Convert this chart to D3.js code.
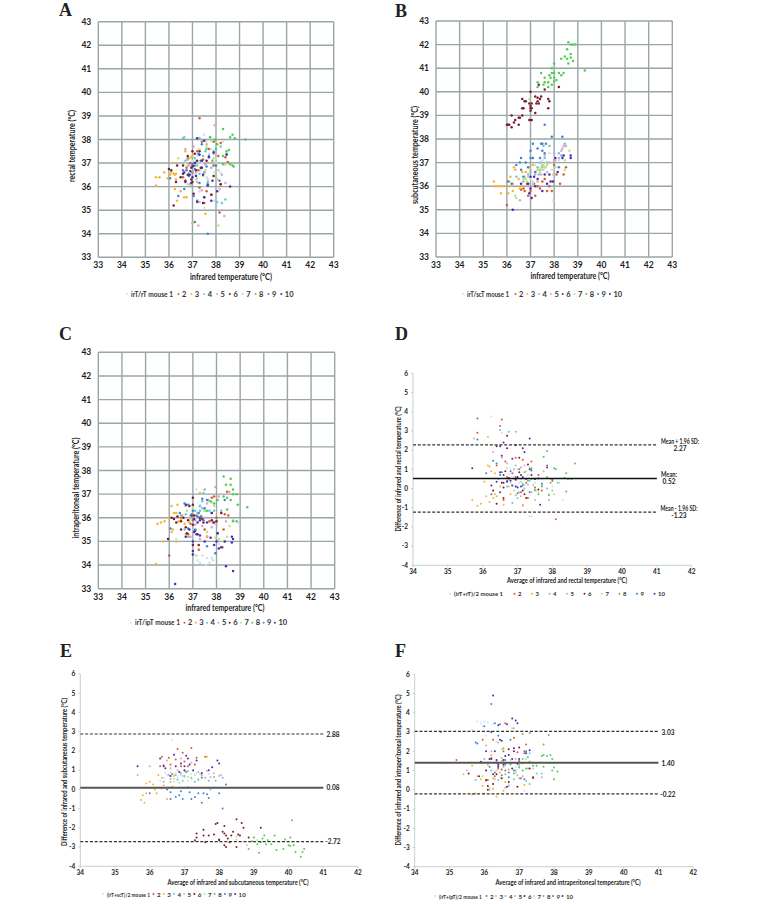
<!DOCTYPE html>
<html>
<head>
<meta charset="utf-8">
<script src="https://cdn.jsdelivr.net/npm/d3@7"></script>
<style>
  body { margin: 0; background: #fff; }
  text { font-family: Lato, "Open Sans", sans-serif; fill: #1c1c1c; }
</style>
</head>
<body>
<div id="chart"></div>
<script>
// one colour per mouse, mouse 1 to 10
const mouseColors = ["#cfe0ee", "#dc5a2e", "#f6b437", "#6cc6de", "#d9a6c8", "#7c1c30", "#b9e38d", "#52cc55", "#3f84d8", "#4a2cb2"]
const mouseLabels = ["2", "3", "4", "5", "6", "7", "8", "9", "10"]
const scatterTicks = [33, 34, 35, 36, 37, 38, 39, 40, 41, 42, 43]
const baXTicks = [34, 35, 36, 37, 38, 39, 40, 41, 42]
const baYTicks = [-4, -3, -2, -1, 0, 1, 2, 3, 4, 5, 6]

// A: infrared vs rectal
const rectalData = [
  [[37.5,38.2],[37.6,37.9],[37.2,37.3],[37.8,37.6],[37.4,37.0],[37.9,36.9],[37.1,36.5],[37.6,36.4],[38.0,37.2],[37.5,36.0],[37.5,35.1],[37.3,35.8],[37.9,35.4],[38.2,36.6],[36.9,36.9],[38.3,37.9],[37.7,37.4],[37.2,36.2],[36.6,36.6],[37.0,37.1],[37.35,36.7]],
  [[37.3,38.9],[37.9,37.9],[38.2,37.85],[38.1,37.3],[38.4,37.25],[38.5,37.05],[37.4,37.9],[37.7,37.6],[36.8,37.2],[37.1,36.9],[37.5,36.6],[37.9,36.9],[38.2,36.1],[37.5,35.3],[37.3,35.95],[38.15,34.9],[37.6,35.8],[37.0,36.6],[37.8,35.65],[37.2,37.5],[36.6,36.4],[36.9,37.0],[37.25,36.7],[36.75,36.8],[37.45,37.15]],
  [[35.45,36.05],[35.45,36.4],[35.6,36.4],[35.8,36.6],[35.95,36.35],[36.05,36.5],[36.1,36.6],[36.2,36.55],[36.3,36.55],[36.15,37.0],[36.25,35.9],[36.3,36.3],[36.35,35.4],[36.5,35.8],[36.65,35.55],[36.75,35.55],[36.8,36.9],[37.0,37.3],[37.55,34.85],[37.0,34.45],[36.7,37.5],[36.9,36.1],[36.25,36.5],[36.95,37.25],[36.85,37.2]],
  [[36.65,38.1],[37.3,38.05],[37.55,37.5],[37.75,38.1],[38.2,37.7],[37.1,37.2],[36.7,37.1],[37.2,36.9],[37.5,36.6],[38.25,35.3],[38.4,35.45],[36.95,36.0],[37.8,36.8],[37.45,37.3],[37.9,37.5],[37.0,36.65],[37.65,36.2],[38.05,35.35],[36.8,37.15],[37.3,36.55],[37.15,37.05],[36.6,38.05],[36.85,36.5]],
  [[37.95,38.6],[36.7,37.6],[37.05,37.7],[37.25,34.35],[38.35,34.75],[38.4,36.15],[38.15,35.9],[37.3,35.35],[37.4,36.8],[37.8,37.0],[37.2,36.2],[38.05,36.3],[37.6,37.8],[37.4,35.85],[36.9,36.5],[37.9,37.4],[38.25,36.5],[36.6,37.0],[37.15,36.6],[36.85,36.9],[37.55,36.95]],
  [[36.2,35.2],[36.0,36.75],[36.1,36.7],[36.3,36.2],[36.35,36.9],[36.5,36.4],[36.6,36.55],[36.7,36.25],[36.8,36.5],[36.95,36.3],[37.0,37.5],[37.05,35.7],[37.05,36.9],[37.2,37.1],[37.45,35.3],[37.3,37.5],[37.8,35.65],[37.9,36.45],[36.6,36.9],[37.0,36.2],[38.2,36.1],[37.4,36.8],[37.6,37.1],[36.8,37.3],[37.1,37.4],[36.9,36.65],[37.0,36.85],[37.15,36.7]],
  [[38.1,34.35],[37.2,36.35],[36.8,36.1],[37.65,36.3],[37.95,36.6],[38.1,36.7],[37.1,36.95],[36.4,37.2],[36.7,37.0],[37.6,37.7],[37.3,37.6],[37.9,37.2],[38.4,36.95],[38.0,37.0],[37.55,36.7],[38.05,36.3],[37.8,37.95],[36.85,36.6],[37.15,36.3],[37.45,36.45],[37.25,37.0]],
  [[38.3,38.45],[38.7,38.2],[38.6,38.1],[38.8,38.05],[39.25,38.0],[37.75,38.1],[37.95,38.0],[38.05,37.8],[38.0,37.6],[38.55,37.55],[38.45,37.4],[38.3,37.3],[38.6,36.95],[38.75,36.85],[38.3,36.95],[38.45,37.5],[37.6,37.6],[37.85,37.1],[38.7,36.9]],
  [[37.65,34.0],[37.1,34.5],[36.4,35.6],[36.65,35.9],[36.05,36.35],[36.75,36.7],[37.05,35.6],[37.2,35.4],[37.3,36.15],[37.65,36.1],[38.15,36.25],[37.4,37.8],[37.25,37.4],[37.6,36.85],[36.9,36.5],[37.7,37.3],[38.0,36.9],[37.5,35.55],[37.0,36.95],[36.6,36.7],[36.85,36.45],[37.1,36.75],[37.35,37.1]],
  [[38.6,36.0],[37.2,38.05],[37.8,35.4],[37.5,35.55],[37.85,36.25],[37.65,36.05],[37.35,36.8],[37.0,36.4],[36.85,36.5],[36.7,36.2],[37.4,37.1],[37.1,37.0],[37.45,36.5],[37.2,35.35],[38.05,35.8],[38.45,37.35],[37.7,37.25],[37.3,37.35],[37.9,37.45],[37.5,37.95],[36.95,36.8],[36.65,36.6],[37.15,36.45],[36.95,36.15]]
]

// B: infrared vs subcutaneous
const subcutData = [
  [[37.95,35.4],[38.0,37.2],[37.8,37.4],[37.4,36.6],[37.6,36.8],[37.2,36.9],[37.0,36.3],[37.5,37.1],[37.3,36.0],[37.9,36.7],[38.2,37.1],[36.8,36.6],[37.1,36.2],[37.7,37.0]],
  [[36.0,35.2],[38.25,36.1],[36.75,35.8],[36.6,35.85],[36.9,35.6],[37.0,35.8],[37.2,35.6],[37.3,36.0],[37.5,36.2],[37.7,35.8],[37.9,35.8],[37.8,36.0],[38.0,36.9],[38.1,36.5],[38.5,36.8],[37.4,35.9],[36.85,36.1],[37.6,36.3],[38.4,36.5],[37.15,36.1],[36.7,35.9]],
  [[35.45,36.2],[35.5,36.0],[35.6,36.0],[35.75,36.0],[35.9,36.0],[35.75,35.7],[36.05,35.7],[36.1,36.0],[36.1,36.2],[36.15,36.4],[36.25,36.1],[36.25,35.8],[36.3,36.8],[36.35,36.7],[36.5,36.3],[36.6,36.0],[36.8,36.6],[36.9,36.8],[37.1,36.9],[36.55,35.9],[37.3,36.7],[36.65,36.6],[37.0,36.7]],
  [[36.4,36.4],[36.7,36.2],[37.0,36.6],[37.3,36.8],[37.6,37.2],[37.8,37.7],[38.45,37.8],[38.2,37.4],[38.3,37.3],[37.4,37.0],[37.1,37.2],[36.9,36.5],[37.5,36.8],[37.7,37.0],[38.0,37.1],[37.55,37.7],[37.2,36.6],[37.35,36.5]],
  [[36.55,35.4],[38.35,37.6],[38.5,37.7],[38.3,37.5],[38.0,37.4],[38.05,37.1],[37.6,37.3],[37.5,36.9],[37.2,36.5],[38.4,37.7],[37.4,36.7],[36.9,36.0],[37.8,37.0],[38.2,37.2],[37.3,36.2],[37.45,36.5],[37.7,36.6]],
  [[36.0,38.6],[36.05,38.6],[36.1,38.6],[36.2,38.5],[36.3,38.7],[36.35,38.8],[36.2,39.0],[36.5,38.6],[36.55,38.9],[36.5,38.9],[36.65,39.0],[36.7,39.3],[36.65,39.3],[36.65,39.7],[36.75,39.6],[36.8,39.6],[37.0,40.0],[36.95,39.5],[37.0,39.4],[37.05,39.3],[37.0,39.2],[37.05,39.5],[37.2,39.1],[37.25,39.5],[37.3,39.6],[37.35,39.5],[37.4,39.7],[37.45,39.8],[37.2,39.8],[37.3,39.75],[37.35,40.3],[37.6,40.1],[37.75,39.7],[37.8,39.6],[37.75,39.3],[38.2,40.2],[37.0,38.8],[36.95,38.8],[37.05,38.8],[37.0,39.3]],
  [[36.4,35.5],[36.35,35.6],[36.8,36.3],[36.75,36.4],[36.85,36.2],[37.1,36.1],[37.4,36.6],[37.5,36.7],[37.55,36.9],[37.6,36.8],[37.65,37.0],[37.7,36.9],[38.45,36.7],[38.45,37.1],[37.45,36.8],[36.9,36.4],[37.95,36.5],[38.05,36.8],[38.65,37.5],[36.95,39.7],[37.55,36.7],[37.65,36.8],[37.35,36.7],[36.7,36.3]],
  [[38.6,42.1],[38.7,42.0],[38.8,42.0],[38.9,42.0],[38.55,41.8],[38.45,41.5],[38.7,41.6],[38.7,41.45],[38.55,41.4],[38.3,41.4],[38.6,41.2],[38.8,41.3],[38.0,41.2],[37.9,41.0],[39.3,40.9],[37.45,40.8],[37.8,40.7],[37.9,40.8],[38.0,40.8],[38.2,40.8],[38.4,40.8],[38.3,40.7],[37.85,40.6],[38.0,40.6],[38.1,40.5],[37.3,40.4],[37.6,40.6],[37.6,40.4],[37.55,40.3],[37.75,40.4],[37.75,40.2],[37.3,40.2],[37.9,40.3],[38.0,40.45]],
  [[37.6,38.6],[37.9,38.1],[38.35,38.1],[37.1,37.8],[37.45,37.8],[37.5,37.8],[37.65,37.8],[37.3,37.6],[37.5,37.5],[37.0,37.5],[36.6,37.2],[37.0,37.2],[37.1,37.2],[37.4,37.2],[36.4,36.9],[36.55,37.0],[36.8,37.0],[37.2,36.6],[36.6,36.7],[36.05,36.2],[36.2,36.1],[36.9,36.8],[37.6,37.4],[36.7,36.4],[38.2,36.8]],
  [[36.25,35.0],[37.05,35.5],[36.95,35.7],[37.0,35.9],[37.5,35.8],[37.7,36.1],[37.85,36.2],[37.95,36.2],[37.0,36.4],[37.15,36.4],[37.3,36.3],[37.6,36.5],[37.8,36.5],[38.35,37.2],[38.4,37.3],[38.7,37.2],[38.7,37.3],[38.05,37.2],[36.6,36.1],[36.9,36.1],[37.2,36.0],[38.15,36.6]]
]

// C: infrared vs intraperitoneal
const intraperData = [
  [[37.15,37.2],[37.2,34.2],[37.3,34.1],[37.4,34.4],[37.55,34.0],[37.6,34.3],[37.7,34.1],[37.8,34.3],[37.85,34.2],[37.0,36.3],[37.5,35.5],[38.1,34.9],[37.7,36.7],[38.9,35.8],[36.3,35.1],[37.1,36.0],[36.9,36.5]],
  [[36.0,34.4],[38.25,34.75],[38.3,35.5],[37.6,35.2],[37.85,35.8],[37.9,36.9],[38.0,36.0],[36.8,35.3],[37.25,34.65],[37.5,35.5],[37.3,36.5],[38.35,36.15],[38.5,36.1],[37.8,36.85],[37.0,35.9],[38.45,37.1],[36.5,36.0],[36.9,35.75],[37.15,36.1],[37.7,35.85]],
  [[35.45,34.05],[35.5,35.75],[35.65,35.8],[35.75,35.0],[35.8,35.85],[35.95,36.0],[36.1,36.5],[36.15,35.5],[36.2,36.2],[36.3,36.2],[36.35,36.55],[36.3,35.0],[36.1,35.4],[36.5,35.95],[36.7,35.3],[37.3,37.05],[36.85,35.2],[37.6,35.2],[36.55,36.1],[36.85,35.8],[36.4,35.85],[36.65,35.75]],
  [[36.5,36.1],[36.7,36.15],[36.9,36.1],[37.1,36.3],[37.3,36.3],[37.5,36.3],[37.7,36.3],[37.5,37.2],[37.45,37.05],[37.4,36.7],[37.3,36.5],[37.9,36.3],[38.2,36.3],[36.8,35.2],[37.65,36.75],[37.1,35.9],[37.2,36.2],[37.4,36.4],[36.65,35.5]],
  [[37.95,37.3],[38.2,36.2],[38.4,35.85],[37.2,36.0],[38.55,37.1],[36.9,35.2],[37.3,35.1],[37.6,36.6],[38.1,36.9],[36.7,36.5],[37.8,35.6],[38.0,35.7],[37.5,36.0],[37.1,35.7],[36.85,36.0],[37.4,35.65]],
  [[35.95,35.1],[36.1,36.0],[36.2,35.95],[36.3,35.8],[36.35,36.05],[36.5,35.5],[36.5,35.85],[36.7,35.6],[36.7,36.55],[36.85,36.5],[37.0,36.55],[37.0,36.85],[37.0,35.7],[37.0,34.85],[37.25,34.85],[37.05,36.1],[37.3,36.0],[37.45,35.8],[37.8,35.9],[38.2,36.2],[38.0,35.85],[37.4,35.95],[36.8,35.9],[37.2,35.3],[36.6,36.0],[36.95,36.1],[37.1,35.45],[36.75,35.35]],
  [[37.15,34.4],[37.95,35.15],[38.1,35.1],[38.45,35.2],[38.3,35.0],[37.6,35.4],[37.8,36.65],[37.5,36.3],[37.2,36.2],[36.75,36.3],[37.9,36.5],[38.7,35.9],[38.55,35.65],[37.0,36.4],[37.35,36.1],[36.9,35.95]],
  [[38.3,37.75],[38.6,37.65],[38.4,37.4],[38.6,37.4],[38.7,37.2],[38.85,37.0],[38.7,37.0],[38.6,36.75],[38.45,36.85],[39.3,36.45],[38.9,36.55],[38.3,36.9],[37.75,36.7],[37.9,36.6],[38.05,36.75],[38.7,35.85],[38.85,35.85],[37.6,36.3],[38.45,36.35]],
  [[36.05,35.55],[36.45,36.2],[36.65,36.6],[36.8,36.55],[37.0,36.3],[37.25,36.2],[37.4,36.8],[37.6,36.75],[37.95,34.5],[38.05,35.35],[37.6,34.8],[37.8,36.2],[37.35,36.05],[38.35,36.75],[37.1,35.5],[36.8,35.55],[37.5,36.4],[37.2,36.05],[36.95,36.15],[37.45,35.9]],
  [[36.25,33.2],[38.4,33.95],[38.7,33.75],[37.0,34.45],[37.0,34.6],[38.65,34.95],[38.7,35.1],[38.65,35.2],[38.1,34.7],[38.2,34.75],[38.0,35.0],[37.9,34.85],[37.5,35.0],[37.75,35.15],[37.3,35.25],[37.15,35.3],[37.05,35.4],[36.7,35.2],[37.0,35.0],[38.35,35.0],[38.05,35.35],[37.6,35.8],[37.9,35.8],[37.3,35.9],[37.05,35.95],[37.8,36.2],[36.85,35.5],[37.2,35.8]]
]

// D: difference infrared - rectal
const baRectalData = [
  [[36.25,3.75],[36.55,2.9],[36.8,1.0],[37.1,0.5],[37.35,-1.45],[37.4,-1.45],[37.2,0.2],[37.5,0.3],[36.9,0.6],[37.6,-0.2],[37.7,0.5],[37.0,0.1],[38.0,0.1],[37.3,0.7],[38.3,-0.6],[36.75,0.75],[37.05,0.3],[37.45,0.15]],
  [[38.1,-1.6],[36.55,3.6],[36.5,3.25],[35.85,2.9],[37.15,1.5],[36.4,1.2],[36.7,0.6],[37.5,0.05],[37.6,0.7],[38.0,0.4],[37.25,0.3],[37.7,-0.1],[36.95,1.6],[36.6,-0.6],[37.1,-0.2],[37.3,-0.5],[37.85,1.2],[36.85,0.8],[37.05,1.0],[36.65,1.4],[37.4,1.4]],
  [[35.7,-0.6],[35.85,-0.9],[35.95,-0.8],[36.05,0.35],[36.1,-0.4],[36.2,1.15],[36.15,1.2],[36.25,0.9],[36.3,-0.5],[36.35,-0.3],[36.4,-0.4],[36.6,-0.85],[36.8,-0.3],[36.2,-0.7],[36.75,0.1],[36.15,2.7],[35.75,2.6],[37.1,-0.4],[37.15,-0.85],[36.5,0.1],[36.35,0.8],[36.95,-0.35]],
  [[36.5,3.05],[36.75,2.95],[36.95,2.95],[36.9,1.0],[37.1,1.1],[37.0,-0.5],[37.2,0.0],[37.35,0.4],[37.7,0.15],[37.85,0.0],[37.9,-0.6],[38.15,0.3],[36.45,0.5],[37.6,0.55],[36.7,0.1],[37.05,-0.2],[36.85,-0.75],[37.15,0.25],[37.5,-0.05]],
  [[36.55,1.6],[36.3,1.9],[36.9,0.5],[37.4,-0.2],[37.75,0.9],[36.7,1.3],[37.5,-0.6],[37.2,1.2],[37.95,0.5],[38.0,-0.1],[37.15,-0.9],[37.3,0.2],[36.75,0.45],[36.95,1.2]],
  [[35.7,1.05],[36.25,0.15],[36.3,-0.1],[36.4,-0.8],[36.55,0.3],[36.6,-0.5],[36.65,0.9],[36.7,2.1],[36.7,2.75],[37.0,0.6],[37.05,1.6],[37.2,-0.3],[37.25,-0.5],[37.15,2.1],[37.4,0.7],[37.6,-0.05],[36.85,0.15],[37.1,0.7],[36.4,2.2],[37.3,1.25],[36.5,0.85],[36.75,0.55],[36.95,0.45],[37.15,-0.1],[36.6,0.05]],
  [[36.7,1.05],[37.0,1.0],[37.4,0.9],[37.6,0.5],[36.8,0.3],[37.9,-0.3],[38.2,0.3],[38.05,-0.3],[37.35,1.1],[36.9,-0.1],[37.55,-0.1],[37.25,0.9],[37.1,0.35],[37.45,0.2]],
  [[38.65,1.3],[37.85,1.95],[37.75,1.65],[38.05,1.05],[38.1,1.0],[38.4,0.8],[38.35,0.55],[38.45,0.5],[38.55,0.5],[37.7,0.1],[37.95,0.3],[38.4,-0.15],[37.4,1.05],[37.2,0.85],[37.9,-0.35],[37.85,0.6],[37.4,0.5],[37.6,-0.3],[37.5,-0.1],[37.3,0.4]],
  [[35.85,3.65],[35.85,2.55],[36.4,1.3],[36.5,0.7],[36.3,1.45],[36.25,-0.3],[36.8,0.9],[36.95,0.6],[37.4,0.95],[37.5,0.5],[37.0,-0.25],[37.35,-0.2],[38.0,0.5],[37.7,0.25],[36.1,0.8],[36.7,0.4],[36.85,0.15],[37.15,0.15],[36.55,0.85]],
  [[36.6,2.4],[36.55,1.7],[37.35,2.6],[36.95,2.25],[37.2,1.9],[36.85,1.55],[36.4,0.35],[36.6,0.3],[37.1,0.1],[36.95,0.1],[37.15,0.6],[36.5,2.2],[37.65,-0.85],[36.8,0.4],[37.5,0.5],[37.85,1.1],[37.35,1.0],[37.0,0.05],[36.7,0.35],[36.5,-0.2],[37.25,0.5],[37.05,0.85],[36.6,0.7]]
]

// E: difference infrared - subcutaneous
const baSubcutData = [
  [[36.65,2.55],[36.4,0.6],[36.6,0.9],[36.8,0.6],[36.9,0.75],[37.0,0.6],[37.2,0.8],[37.4,0.55],[37.5,0.7],[36.5,0.75],[37.1,0.45],[36.7,0.4],[37.7,0.8],[36.3,0.45],[36.45,0.85],[37.25,0.95],[37.35,0.85],[36.75,0.85]],
  [[36.35,1.7],[36.55,1.65],[36.8,2.1],[36.95,1.9],[37.2,2.15],[37.35,1.65],[36.4,1.25],[36.6,1.3],[37.0,1.45],[37.3,1.3],[37.5,0.6],[36.65,0.8],[37.05,0.9],[36.3,1.2],[37.6,1.7],[36.9,1.2],[36.75,1.55],[37.1,1.2]],
  [[35.75,-0.55],[35.85,-0.7],[35.8,-0.3],[35.9,-0.2],[35.9,0.3],[36.0,0.4],[36.1,0.25],[36.15,0.0],[36.2,-0.2],[36.35,0.05],[36.35,0.6],[36.5,-0.5],[36.6,0.4],[36.7,0.7],[36.25,0.75],[36.4,0.2],[37.65,1.7],[36.55,0.1],[36.65,0.15]],
  [[36.4,0.4],[36.6,0.55],[36.8,0.5],[37.0,0.7],[37.2,0.6],[37.4,0.5],[37.5,0.75],[37.7,0.45],[37.85,0.65],[37.9,0.45],[36.9,0.85],[37.1,0.95],[38.1,0.6],[37.75,0.0],[36.55,0.75],[36.75,0.75],[37.3,0.4],[37.6,0.6],[36.95,0.45]],
  [[35.65,0.75],[36.0,1.2],[37.75,0.65],[37.85,0.65],[38.0,0.7],[38.05,0.75],[36.5,1.5],[37.2,1.4],[37.4,0.9],[36.8,1.0],[37.65,0.95],[36.9,1.6],[37.85,0.85],[37.0,0.95],[36.6,1.1]],
  [[37.3,-2.65],[37.35,-2.5],[37.35,-2.3],[37.55,-2.1],[37.55,-2.4],[37.6,-2.75],[37.7,-2.4],[37.85,-2.35],[37.9,-1.8],[37.95,-1.75],[38.0,-2.6],[38.0,-2.65],[38.1,-2.2],[38.15,-1.9],[38.15,-2.3],[38.2,-2.4],[38.2,-3.0],[38.15,-2.9],[38.25,-2.55],[38.35,-2.4],[38.4,-2.2],[38.3,-2.75],[38.5,-1.55],[38.5,-3.0],[38.65,-1.75],[38.7,-2.0],[38.6,-2.4],[38.85,-2.5],[39.2,-2.0],[38.55,-2.35]],
  [[38.5,-2.6],[38.8,-2.9],[39.1,-2.65],[38.5,-2.45],[39.0,-2.5],[36.6,0.7],[37.1,0.65],[37.3,0.75],[36.85,0.35],[36.7,0.55],[37.2,0.55],[37.45,0.8],[36.95,0.7]],
  [[38.85,-3.1],[38.95,-2.7],[39.0,-2.5],[39.1,-2.85],[39.15,-3.3],[39.2,-2.75],[39.25,-2.55],[39.3,-2.4],[39.35,-2.85],[39.4,-2.65],[39.5,-2.85],[39.6,-2.4],[39.65,-3.15],[39.85,-3.1],[39.9,-2.6],[40.0,-2.9],[40.05,-2.5],[40.1,-1.6],[40.15,-2.9],[40.2,-3.25],[40.35,-3.5],[40.4,-3.25],[40.45,-3.1],[40.05,-2.95]],
  [[36.0,-0.2],[36.6,-0.5],[36.75,-0.4],[36.95,-0.5],[37.2,-0.5],[37.3,-0.4],[37.4,-0.2],[37.5,-0.7],[37.7,-0.45],[37.65,-0.25],[38.1,-1.0],[38.0,-0.2],[38.2,0.25],[36.5,0.0],[36.9,-0.1],[37.1,0.1],[37.55,-0.2],[36.6,-0.15],[36.85,-0.3],[37.15,-0.15]],
  [[35.65,1.2],[36.3,1.6],[36.4,1.2],[36.45,1.1],[36.7,1.8],[36.75,1.2],[37.0,1.2],[37.05,1.75],[37.1,1.6],[37.35,1.5],[37.0,1.0],[37.7,1.0],[37.8,1.15],[37.95,1.5],[38.0,1.35],[37.5,0.85],[36.6,0.7],[37.25,1.0],[36.85,0.9],[36.9,1.35],[37.15,1.3]]
]

// F: difference infrared - intraperitoneal
const baIntraperData = [
  [[35.8,3.55],[35.9,3.45],[36.0,3.55],[36.1,3.5],[35.95,3.3],[35.65,3.1],[36.25,3.4],[37.15,-0.05],[36.05,2.8],[36.35,2.5],[36.9,1.2],[36.7,0.3],[36.6,1.25],[36.45,0.65]],
  [[35.2,1.55],[36.25,2.6],[36.6,3.45],[36.85,2.7],[36.95,1.95],[37.2,2.35],[37.4,0.6],[37.05,0.6],[36.1,0.5],[36.3,0.7],[36.6,1.0],[37.0,1.5],[37.15,2.0],[36.55,2.0],[36.75,1.35],[35.95,2.6],[36.4,1.1],[36.2,1.65],[36.5,0.75]],
  [[34.75,1.4],[35.4,0.8],[35.65,-0.25],[35.75,-0.2],[35.8,0.7],[35.9,0.55],[35.95,0.2],[36.05,0.45],[36.15,0.0],[36.25,0.05],[36.35,-0.35],[36.4,2.45],[36.55,-0.05],[36.6,0.4],[36.2,1.8],[36.0,-0.2],[36.45,0.9],[37.15,0.25],[35.65,1.25],[36.3,0.55],[36.1,1.3],[36.5,1.5]],
  [[36.25,0.6],[36.4,0.5],[36.7,0.2],[36.85,0.55],[37.0,0.6],[37.2,0.45],[37.3,0.3],[37.3,1.9],[37.1,1.6],[36.75,1.3],[36.4,1.3],[36.0,1.6],[36.9,1.0],[37.5,0.85],[37.65,0.85],[35.75,0.5],[36.6,0.8],[37.0,1.25],[36.55,1.2],[36.2,1.0]],
  [[35.5,1.0],[36.9,1.6],[37.65,0.65],[37.1,0.7],[36.2,2.0],[36.6,0.1],[37.4,1.4],[36.5,1.65],[37.25,1.1],[36.85,3.2],[36.05,2.3],[36.7,1.05],[36.35,1.5],[36.95,0.75]],
  [[35.55,0.85],[35.85,0.7],[36.05,0.5],[36.1,0.2],[36.1,0.0],[36.25,0.3],[36.25,0.8],[36.4,1.2],[36.5,0.6],[36.55,1.55],[36.65,0.15],[36.7,2.1],[36.7,0.4],[36.85,2.0],[36.95,0.15],[37.0,2.2],[36.8,1.1],[37.4,0.65],[37.3,1.1],[37.2,1.9],[35.9,1.45],[36.15,1.6],[36.35,0.8],[36.6,1.35],[36.05,1.0]],
  [[36.15,0.1],[36.5,2.1],[36.8,3.2],[36.9,0.9],[37.4,1.1],[37.0,1.3],[37.55,1.4],[36.6,1.4],[35.95,0.7],[36.35,1.0],[37.2,1.6],[36.75,1.55],[37.1,1.35]],
  [[38.0,0.55],[38.1,0.95],[38.0,1.15],[37.95,1.0],[37.85,2.85],[37.7,2.35],[37.9,1.8],[37.8,1.75],[37.7,1.8],[37.65,1.75],[37.95,1.6],[37.7,1.2],[37.5,1.25],[37.3,2.95],[37.1,2.9],[37.3,1.45],[37.2,1.1],[36.85,0.85],[37.0,1.15],[37.1,1.0],[37.25,1.7],[36.55,2.15],[37.4,1.25]],
  [[34.75,3.0],[36.2,4.45],[36.0,3.3],[36.3,3.45],[35.75,2.45],[35.8,2.4],[36.35,1.4],[36.55,1.4],[36.7,0.9],[37.2,2.0],[36.4,2.8],[36.75,2.6],[36.45,3.4],[36.85,1.0],[37.15,1.9],[37.15,0.55],[36.6,1.55],[36.3,0.9],[36.15,1.2],[36.5,1.05],[36.7,0.65]],
  [[36.25,4.9],[36.8,3.7],[36.9,3.6],[36.95,3.45],[36.65,3.4],[36.4,3.35],[36.2,3.0],[36.45,2.6],[36.5,2.55],[36.3,2.0],[36.55,1.3],[36.85,2.15],[36.05,2.0],[36.7,1.8],[36.4,1.3],[37.0,1.6],[37.3,2.05],[36.2,1.6],[36.8,1.6],[36.35,1.55],[36.6,1.75],[36.95,1.35]]
]

// mean and limits of agreement, low/mean/high
const baRectalLines = [-1.23, 0.52, 2.27]
const baSubcutLines = [-2.72, 0.08, 2.88]
const baIntraperLines = [-0.22, 1.40, 3.03]

const svg = d3.select("#chart").append("svg")
    .attr("width", 759)
    .attr("height", 904)
    .style("display", "block")

function panelLetter(letter, x, y) {
    svg.append("text")
        .attr("x", x).attr("y", y)
        .style("font-family", "'Liberation Serif', serif")
        .style("font-weight", "700")
        .style("font-size", "18px")
        .style("fill", "#222")
        .text(letter)
}

function drawPoints(g, data, x, y, r) {
    data.forEach((pts, i) => {
        g.append("g").selectAll("circle")
            .data(pts)
            .enter().append("circle")
            .attr("cx", d => x(d[0]))
            .attr("cy", d => y(d[1]))
            .attr("r", r)
            .attr("fill", mouseColors[i])
    })
}

function drawLegend(cfg) {
    const g = svg.append("g").style("font-size", cfg.size + "px").style("font-weight", "700")
    g.append("circle").attr("cx", cfg.x0).attr("cy", cfg.y).attr("r", 1).attr("fill", mouseColors[0])
    g.append("text").attr("x", cfg.x0 + 4).attr("y", cfg.y + 2.5)
        .attr("textLength", cfg.width).attr("lengthAdjust", "spacingAndGlyphs")
        .style("font-size", cfg.firstSize + "px")
        .style("fill", "#333").text(cfg.first)
    mouseLabels.forEach((lab, i) => {
        const tx = cfg.x2 + i * cfg.step
        g.append("circle").attr("cx", tx - 3.5).attr("cy", cfg.y).attr("r", 1).attr("fill", mouseColors[i + 1])
        g.append("text").attr("x", tx).attr("y", cfg.y + 2.5).style("fill", "#333").text(lab)
    })
}

// titles squeezed to the width they have in the picture
function axisTitle(g, txt, size, width, x, y, rotated) {
    const t = g.append("text")
        .attr("text-anchor", "middle")
        .attr("textLength", width).attr("lengthAdjust", "spacingAndGlyphs")
        .style("font-size", size + "px").style("font-weight", "700")
        .text(txt)
    if (rotated) t.attr("transform", `translate(${x},${y}) rotate(-90)`)
    else t.attr("x", x).attr("y", y)
}

// panels A-C
function scatterPanel(cfg) {
    const x = d3.scaleLinear().domain([33, 43]).range([cfg.left, cfg.right])
    const y = d3.scaleLinear().domain([33, 43]).range([cfg.bottom, cfg.top])
    const g = svg.append("g")

    g.append("g").selectAll("line").data(scatterTicks).enter().append("line")
        .attr("x1", d => x(d)).attr("x2", d => x(d))
        .attr("y1", cfg.top).attr("y2", cfg.bottom)
        .attr("stroke", "#99a6a6").attr("stroke-width", 1.4)
    g.append("g").selectAll("line").data(scatterTicks).enter().append("line")
        .attr("y1", d => y(d)).attr("y2", d => y(d))
        .attr("x1", cfg.left).attr("x2", cfg.right)
        .attr("stroke", "#99a6a6").attr("stroke-width", 1.4)

    drawPoints(g, cfg.data, x, y, 1.25)

    const tickFont = "8.5px"
    g.append("g").selectAll("text").data(scatterTicks).enter().append("text")
        .attr("x", d => x(d)).attr("y", cfg.bottom + 11)
        .attr("text-anchor", "middle")
        .style("font-size", tickFont).style("font-weight", "700")
        .text(d => d)
    g.append("g").selectAll("text").data(scatterTicks).enter().append("text")
        .attr("x", cfg.left - 7).attr("y", d => y(d) + 3)
        .attr("text-anchor", "end")
        .style("font-size", tickFont).style("font-weight", "700")
        .text(d => d)

    axisTitle(g, "infrared temperature (°C)", 8.5, cfg.xTitleW, cfg.xTitleX, cfg.xTitleY, false)
    axisTitle(g, cfg.yTitle, 8.5, cfg.yTitleW, cfg.yTitleX, cfg.yTitleY, true)
}

// panels D-F
function baPanel(cfg) {
    const x = d3.scaleLinear().domain([34, 42]).range([cfg.left, cfg.right])
    const y = d3.scaleLinear().domain([-4, 6]).range([cfg.bottom, cfg.top])
    const g = svg.append("g")

    g.append("line").attr("x1", cfg.left).attr("x2", cfg.left).attr("y1", cfg.top).attr("y2", cfg.bottom)
        .attr("stroke", "#c9cfcf").attr("stroke-width", 1)
    g.append("line").attr("x1", cfg.left).attr("x2", cfg.right).attr("y1", cfg.bottom).attr("y2", cfg.bottom)
        .attr("stroke", "#c9cfcf").attr("stroke-width", 1)
    g.append("g").selectAll("line").data(baYTicks).enter().append("line")
        .attr("x1", cfg.left - 2).attr("x2", cfg.left)
        .attr("y1", d => y(d)).attr("y2", d => y(d))
        .attr("stroke", "#c9cfcf")
    g.append("g").selectAll("line").data(baXTicks).enter().append("line")
        .attr("x1", d => x(d)).attr("x2", d => x(d))
        .attr("y1", cfg.bottom).attr("y2", cfg.bottom + 2)
        .attr("stroke", "#c9cfcf")

    drawPoints(g, cfg.data, x, y, 1)

    g.append("line")
        .attr("x1", x(34)).attr("x2", x(41))
        .attr("y1", y(cfg.lines[1])).attr("y2", y(cfg.lines[1]))
        .attr("stroke", cfg.meanColor).attr("stroke-width", cfg.meanWidth)
    ;[cfg.lines[0], cfg.lines[2]].forEach(v => {
        g.append("line")
            .attr("x1", x(34)).attr("x2", x(41))
            .attr("y1", y(v)).attr("y2", y(v))
            .attr("stroke", "#333").attr("stroke-width", 1.2)
            .attr("stroke-dasharray", "3,1.8")
    })

    g.append("g").selectAll("text").data(baXTicks).enter().append("text")
        .attr("x", d => x(d)).attr("y", cfg.bottom + 8.5)
        .attr("text-anchor", "middle")
        .style("font-size", "6.5px").style("font-weight", "700")
        .text(d => d)
    g.append("g").selectAll("text").data(baYTicks).enter().append("text")
        .attr("x", cfg.left - 5).attr("y", d => y(d) + 2.3)
        .attr("text-anchor", "end")
        .style("font-size", "6.5px").style("font-weight", "700")
        .text(d => d)

    axisTitle(g, cfg.xTitle, 7, cfg.xTitleW, cfg.xTitleX, cfg.xTitleY, false)
    axisTitle(g, cfg.yTitle, 7, cfg.yTitleW, cfg.yTitleX, cfg.yTitleY, true)
}

function lineLabel(x, yPos, txt, width) {
    const t = svg.append("text").attr("x", x).attr("y", yPos)
        .attr("text-anchor", "middle")
        .style("font-size", "6.5px").style("font-weight", "700")
        .text(txt)
    if (width) t.attr("textLength", width).attr("lengthAdjust", "spacingAndGlyphs")
}

panelLetter("A", 59, 16)
panelLetter("B", 395, 17)
panelLetter("C", 59, 340)
panelLetter("D", 395, 340)
panelLetter("E", 60, 657)
panelLetter("F", 395, 657)

scatterPanel({left: 98.3, right: 333.7, top: 21.7, bottom: 257.3, data: rectalData,
    yTitle: "rectal temperature (°C)", xTitleX: 231, xTitleY: 280, xTitleW: 82, yTitleX: 75, yTitleY: 146, yTitleW: 72})
scatterPanel({left: 436, right: 672.3, top: 21, bottom: 257, data: subcutData,
    yTitle: "subcutaneous temperature (°C)", xTitleX: 570, xTitleY: 279, xTitleW: 79, yTitleX: 418, yTitleY: 155, yTitleW: 98})
scatterPanel({left: 98.3, right: 334.7, top: 352.3, bottom: 588.7, data: intraperData,
    yTitle: "intraperitoneal temperature (°C)", xTitleX: 225, xTitleY: 611, xTitleW: 79, yTitleX: 79, yTitleY: 488, yTitleW: 101})

baPanel({left: 413, right: 691.7, top: 373.3, bottom: 565.3, data: baRectalData, lines: baRectalLines,
    meanColor: "#111", meanWidth: 1.3,
    xTitle: "Average of infrared and rectal temperature (°C)", xTitleX: 567, xTitleY: 583, xTitleW: 120,
    yTitle: "Difference of infrared and rectal temperature (°C)", yTitleX: 401, yTitleY: 469, yTitleW: 125})
baPanel({left: 80.3, right: 358, top: 674, bottom: 866.3, data: baSubcutData, lines: baSubcutLines,
    meanColor: "#555", meanWidth: 2,
    xTitle: "Average of infrared and subcutaneous temperature (°C)", xTitleX: 238, xTitleY: 885, xTitleW: 141,
    yTitle: "Difference of infrared and subcutaneous temperature (°C)", yTitleX: 67, yTitleY: 772, yTitleW: 148})
baPanel({left: 414.7, right: 693.3, top: 674.3, bottom: 866.7, data: baIntraperData, lines: baIntraperLines,
    meanColor: "#555", meanWidth: 2,
    xTitle: "Average of infrared and intraperitoneal temperature (°C)", xTitleX: 568, xTitleY: 885, xTitleW: 145,
    yTitle: "Difference of infrared and intraperitoneal temperature (°C)", yTitleX: 401, yTitleY: 770, yTitleW: 151})

lineLabel(680, 444, "Mean + 1.96 SD:", 38)
lineLabel(680, 451, "2.27")
lineLabel(669, 477, "Mean:", 16)
lineLabel(669, 484, "0.52")
lineLabel(679, 511, "Mean - 1.96 SD:", 37)
lineLabel(679, 518, "-1.23")
lineLabel(333, 736.5, "2.88")
lineLabel(333, 790, "0.08")
lineLabel(333, 844, "-2.72")
lineLabel(668, 735, "3.03")
lineLabel(668, 765.5, "1.40")
lineLabel(668, 796.5, "-0.22")

drawLegend({x0: 127, y: 294, size: 7.5, firstSize: 7.5, first: "irT/rT mouse 1", width: 42, x2: 182, step: 12.85})
drawLegend({x0: 463, y: 294, size: 7.5, firstSize: 7, first: "irT/scT mouse 1", width: 42, x2: 519, step: 11.8})
drawLegend({x0: 131, y: 622.7, size: 7.5, firstSize: 7.5, first: "irT/ipT mouse 1", width: 45, x2: 188, step: 11.3})
drawLegend({x0: 450, y: 593.7, size: 6, firstSize: 6, first: "(irT+rT)/2 mouse 1", width: 49, x2: 518, step: 17.5})
drawLegend({x0: 103, y: 894, size: 6.2, firstSize: 5, first: "(irT+scT)/2 mouse 1", width: 43, x2: 157, step: 10.2})
drawLegend({x0: 435, y: 896, size: 6.2, firstSize: 5, first: "(irT+ipT)/2 mouse 1", width: 43, x2: 490, step: 9.5})
</script>
</body>
</html>
